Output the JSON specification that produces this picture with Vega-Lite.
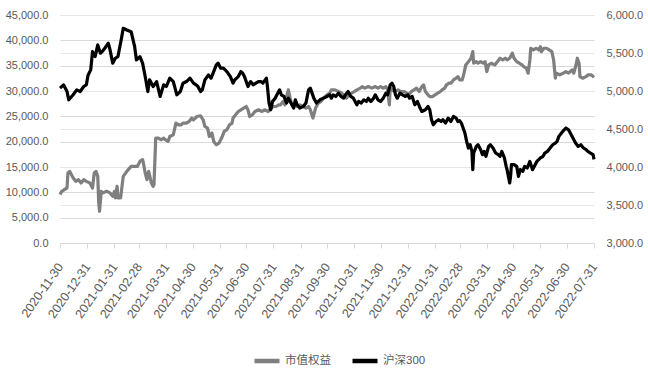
{
"$schema": "https://vega.github.io/schema/vega-lite/v6.json",
"width": 534, "height": 228,
"autosize": {"type": "none"},
"padding": {"left": 60, "top": 15, "right": 54, "bottom": 130},
"background": "white",
"config": {
  "font": "Liberation Sans, Noto Sans CJK SC",
  "view": {"stroke": null},
  "axis": {"labelColor": "#595959", "labelFontSize": 11, "title": null, "labelFont": "Liberation Sans, Noto Sans CJK SC"},
  "legend": {"orient": "none", "legendX": 192, "legendY": 331, "direction": "horizontal", "symbolType": "stroke", "symbolStrokeWidth": 4.5, "symbolSize": 625, "labelFontSize": 11.5, "labelColor": "#595959", "columnPadding": 12, "labelOffset": 3, "labelFont": "Liberation Sans, Noto Sans CJK SC"}
},
"datasets": {
"gray": [
{"d":"2020-11-30","v":9550},{"d":"2020-12-02","v":10200},{"d":"2020-12-05","v":10534},{"d":"2020-12-08","v":10862},{"d":"2020-12-09","v":13822},{"d":"2020-12-11","v":14138},{"d":"2020-12-15","v":12838},{"d":"2020-12-18","v":12168},{"d":"2020-12-21","v":12503},{"d":"2020-12-24","v":11853},{"d":"2020-12-27","v":12503},{"d":"2020-12-30","v":12168},
{"d":"2021-01-03","v":11853},{"d":"2021-01-06","v":10862},{"d":"2021-01-08","v":13822},{"d":"2021-01-10","v":14138},{"d":"2021-01-12","v":13153},{"d":"2021-01-13","v":8230},{"d":"2021-01-14","v":6262},{"d":"2021-01-16","v":10200},{"d":"2021-01-18","v":9885},{"d":"2021-01-22","v":10200},{"d":"2021-01-26","v":9885},{"d":"2021-01-29","v":9215},{"d":"2021-01-31","v":10200},
{"d":"2021-02-01","v":8900},{"d":"2021-02-03","v":11184},{"d":"2021-02-04","v":8900},{"d":"2021-02-07","v":8900},{"d":"2021-02-10","v":13153},{"d":"2021-02-14","v":14138},{"d":"2021-02-19","v":15122},{"d":"2021-02-23","v":15122},{"d":"2021-02-26","v":15122},
{"d":"2021-03-01","v":16107},{"d":"2021-03-04","v":16441},{"d":"2021-03-05","v":15791},{"d":"2021-03-07","v":13822},{"d":"2021-03-09","v":12503},{"d":"2021-03-11","v":14138},{"d":"2021-03-14","v":11853},{"d":"2021-03-16","v":11184},{"d":"2021-03-17","v":11500},{"d":"2021-03-19","v":20714},{"d":"2021-03-22","v":20714},{"d":"2021-03-25","v":20380},{"d":"2021-03-28","v":20714},{"d":"2021-03-30","v":20380},
{"d":"2021-04-02","v":20045},{"d":"2021-04-04","v":21030},{"d":"2021-04-08","v":21364},{"d":"2021-04-11","v":23667},{"d":"2021-04-14","v":23333},{"d":"2021-04-17","v":23333},{"d":"2021-04-19","v":23667},{"d":"2021-04-23","v":23667},{"d":"2021-04-26","v":23982},{"d":"2021-04-29","v":24652},
{"d":"2021-05-01","v":24317},{"d":"2021-05-05","v":24967},{"d":"2021-05-09","v":25105},{"d":"2021-05-12","v":24317},{"d":"2021-05-14","v":22998},{"d":"2021-05-17","v":22683},{"d":"2021-05-19","v":21030},{"d":"2021-05-22","v":21698},{"d":"2021-05-24","v":20045},{"d":"2021-05-27","v":19395},{"d":"2021-05-30","v":19730},
{"d":"2021-06-02","v":20714},{"d":"2021-06-05","v":22014},{"d":"2021-06-08","v":22349},{"d":"2021-06-11","v":23333},{"d":"2021-06-14","v":23667},{"d":"2021-06-15","v":24652},{"d":"2021-06-18","v":25302},{"d":"2021-06-21","v":25952},{"d":"2021-06-24","v":26287},{"d":"2021-06-27","v":26621},{"d":"2021-06-30","v":26937},
{"d":"2021-07-02","v":26287},{"d":"2021-07-04","v":24967},{"d":"2021-07-07","v":25302},{"d":"2021-07-10","v":25952},{"d":"2021-07-14","v":26287},{"d":"2021-07-18","v":25952},{"d":"2021-07-21","v":26287},{"d":"2021-07-25","v":25952},{"d":"2021-07-28","v":26621},{"d":"2021-07-31","v":26937},
{"d":"2021-08-03","v":26937},{"d":"2021-08-06","v":27271},{"d":"2021-08-08","v":27271},{"d":"2021-08-11","v":27921},{"d":"2021-08-13","v":27271},{"d":"2021-08-15","v":28905},{"d":"2021-08-17","v":30224},{"d":"2021-08-19","v":28590},{"d":"2021-08-21","v":27271},{"d":"2021-08-23","v":27271},{"d":"2021-08-27","v":26937},{"d":"2021-08-30","v":27271},
{"d":"2021-09-03","v":26937},{"d":"2021-09-06","v":26621},{"d":"2021-09-09","v":26937},{"d":"2021-09-11","v":26287},{"d":"2021-09-14","v":24652},{"d":"2021-09-15","v":25302},{"d":"2021-09-17","v":26621},{"d":"2021-09-20","v":27606},{"d":"2021-09-23","v":27921},{"d":"2021-09-26","v":28590},{"d":"2021-09-30","v":29240},
{"d":"2021-10-03","v":29575},{"d":"2021-10-05","v":30224},{"d":"2021-10-09","v":30224},{"d":"2021-10-13","v":29890},{"d":"2021-10-17","v":29575},{"d":"2021-10-20","v":28905},{"d":"2021-10-22","v":28590},{"d":"2021-10-25","v":29240},{"d":"2021-10-28","v":29575},{"d":"2021-10-31","v":29890},
{"d":"2021-11-03","v":30224},{"d":"2021-11-07","v":30559},{"d":"2021-11-09","v":30874},{"d":"2021-11-12","v":30559},{"d":"2021-11-16","v":30874},{"d":"2021-11-20","v":30559},{"d":"2021-11-24","v":30874},{"d":"2021-11-27","v":30559},{"d":"2021-11-30","v":30874},
{"d":"2021-12-03","v":30559},{"d":"2021-12-06","v":30874},{"d":"2021-12-08","v":30224},{"d":"2021-12-10","v":27271},{"d":"2021-12-11","v":30559},{"d":"2021-12-13","v":30224},{"d":"2021-12-16","v":29890},{"d":"2021-12-20","v":30224},{"d":"2021-12-23","v":29890},{"d":"2021-12-27","v":29890},{"d":"2021-12-30","v":29575},
{"d":"2022-01-01","v":29240},{"d":"2022-01-04","v":29890},{"d":"2022-01-07","v":30224},{"d":"2022-01-10","v":30559},{"d":"2022-01-13","v":29890},{"d":"2022-01-16","v":30874},{"d":"2022-01-18","v":31209},{"d":"2022-01-20","v":29890},{"d":"2022-01-23","v":29240},{"d":"2022-01-25","v":28905},{"d":"2022-01-28","v":28905},{"d":"2022-01-31","v":29240},
{"d":"2022-02-03","v":29575},{"d":"2022-02-06","v":29890},{"d":"2022-02-08","v":30224},{"d":"2022-02-11","v":30559},{"d":"2022-02-13","v":31209},{"d":"2022-02-16","v":31544},{"d":"2022-02-18","v":31544},{"d":"2022-02-21","v":32194},{"d":"2022-02-24","v":32528},{"d":"2022-02-26","v":32843},{"d":"2022-02-28","v":32200},
{"d":"2022-03-03","v":32200},{"d":"2022-03-05","v":33513},{"d":"2022-03-07","v":35147},{"d":"2022-03-10","v":35797},{"d":"2022-03-13","v":36466},{"d":"2022-03-15","v":37766},{"d":"2022-03-16","v":35482},{"d":"2022-03-19","v":35797},{"d":"2022-03-21","v":35482},{"d":"2022-03-24","v":35797},{"d":"2022-03-27","v":35482},{"d":"2022-03-29","v":35797},{"d":"2022-03-31","v":33828},
{"d":"2022-04-02","v":35147},{"d":"2022-04-05","v":35482},{"d":"2022-04-09","v":35147},{"d":"2022-04-12","v":35797},{"d":"2022-04-15","v":36466},{"d":"2022-04-18","v":36132},{"d":"2022-04-21","v":36466},{"d":"2022-04-23","v":36132},{"d":"2022-04-26","v":36466},{"d":"2022-04-29","v":37451},
{"d":"2022-05-01","v":36466},{"d":"2022-05-04","v":35797},{"d":"2022-05-07","v":35482},{"d":"2022-05-10","v":35147},{"d":"2022-05-12","v":34812},{"d":"2022-05-15","v":34497},{"d":"2022-05-17","v":33513},{"d":"2022-05-19","v":36132},{"d":"2022-05-20","v":38435},{"d":"2022-05-23","v":38100},{"d":"2022-05-26","v":38435},{"d":"2022-05-29","v":38100},{"d":"2022-05-31","v":38750},
{"d":"2022-06-01","v":37766},{"d":"2022-06-04","v":38435},{"d":"2022-06-07","v":38435},{"d":"2022-06-10","v":38100},{"d":"2022-06-13","v":37766},{"d":"2022-06-15","v":36132},{"d":"2022-06-17","v":32528},{"d":"2022-06-18","v":33513},{"d":"2022-06-22","v":33198},{"d":"2022-06-26","v":33513},{"d":"2022-06-29","v":33828},
{"d":"2022-07-02","v":33513},{"d":"2022-07-06","v":34163},{"d":"2022-07-08","v":33513},{"d":"2022-07-11","v":35482},{"d":"2022-07-12","v":36466},{"d":"2022-07-14","v":35482},{"d":"2022-07-15","v":32843},{"d":"2022-07-18","v":32528},{"d":"2022-07-22","v":32843},{"d":"2022-07-24","v":33198},{"d":"2022-07-28","v":33198},{"d":"2022-07-31","v":32700}
],
"black": [
{"d":"2020-11-30","v":5038},{"d":"2020-12-04","v":5081},{"d":"2020-12-08","v":4993},{"d":"2020-12-10","v":4884},{"d":"2020-12-15","v":4950},{"d":"2020-12-19","v":5015},{"d":"2020-12-23","v":4993},{"d":"2020-12-27","v":5059},{"d":"2020-12-30","v":5081},
{"d":"2021-01-01","v":5212},{"d":"2021-01-04","v":5278},{"d":"2021-01-06","v":5518},{"d":"2021-01-09","v":5453},{"d":"2021-01-12","v":5606},{"d":"2021-01-15","v":5497},{"d":"2021-01-17","v":5518},{"d":"2021-01-20","v":5563},{"d":"2021-01-24","v":5629},{"d":"2021-01-26","v":5541},{"d":"2021-01-29","v":5366},
{"d":"2021-02-01","v":5431},{"d":"2021-02-04","v":5453},{"d":"2021-02-08","v":5694},{"d":"2021-02-10","v":5825},{"d":"2021-02-14","v":5803},{"d":"2021-02-19","v":5781},{"d":"2021-02-23","v":5584},{"d":"2021-02-25","v":5409},
{"d":"2021-03-01","v":5453},{"d":"2021-03-04","v":5366},{"d":"2021-03-07","v":5190},{"d":"2021-03-10","v":4993},{"d":"2021-03-12","v":5147},{"d":"2021-03-16","v":5059},{"d":"2021-03-20","v":5124},{"d":"2021-03-24","v":4928},{"d":"2021-03-28","v":5081},{"d":"2021-03-31","v":5059},
{"d":"2021-04-04","v":5169},{"d":"2021-04-08","v":5124},{"d":"2021-04-12","v":4950},{"d":"2021-04-16","v":4993},{"d":"2021-04-19","v":5103},{"d":"2021-04-23","v":5124},{"d":"2021-04-27","v":5169},
{"d":"2021-05-01","v":5103},{"d":"2021-05-04","v":5081},{"d":"2021-05-06","v":5059},{"d":"2021-05-09","v":4993},{"d":"2021-05-11","v":5015},{"d":"2021-05-14","v":5147},{"d":"2021-05-18","v":5212},{"d":"2021-05-21","v":5169},{"d":"2021-05-24","v":5256},{"d":"2021-05-27","v":5344},{"d":"2021-05-29","v":5366},
{"d":"2021-06-01","v":5300},{"d":"2021-06-04","v":5300},{"d":"2021-06-08","v":5256},{"d":"2021-06-12","v":5190},{"d":"2021-06-15","v":5103},{"d":"2021-06-17","v":5147},{"d":"2021-06-21","v":5190},{"d":"2021-06-24","v":5256},{"d":"2021-06-26","v":5234},{"d":"2021-06-28","v":5190},{"d":"2021-06-30","v":5124},
{"d":"2021-07-02","v":5059},{"d":"2021-07-05","v":5124},{"d":"2021-07-08","v":5081},{"d":"2021-07-11","v":5103},{"d":"2021-07-14","v":5124},{"d":"2021-07-17","v":5124},{"d":"2021-07-19","v":5103},{"d":"2021-07-23","v":5169},{"d":"2021-07-24","v":5081},{"d":"2021-07-26","v":4841},{"d":"2021-07-28","v":4753},{"d":"2021-07-30","v":4862},
{"d":"2021-08-02","v":4906},{"d":"2021-08-04","v":4950},{"d":"2021-08-07","v":5015},{"d":"2021-08-09","v":4950},{"d":"2021-08-12","v":4928},{"d":"2021-08-15","v":4841},{"d":"2021-08-17","v":4906},{"d":"2021-08-20","v":4841},{"d":"2021-08-23","v":4775},{"d":"2021-08-25","v":4884},{"d":"2021-08-27","v":4819},{"d":"2021-08-30","v":4775},
{"d":"2021-09-03","v":4797},{"d":"2021-09-06","v":4841},{"d":"2021-09-09","v":5015},{"d":"2021-09-11","v":5038},{"d":"2021-09-13","v":4972},{"d":"2021-09-15","v":4906},{"d":"2021-09-18","v":4841},{"d":"2021-09-22","v":4884},{"d":"2021-09-26","v":4906},{"d":"2021-09-30","v":4928},
{"d":"2021-10-03","v":4950},{"d":"2021-10-05","v":4906},{"d":"2021-10-07","v":4950},{"d":"2021-10-10","v":4928},{"d":"2021-10-13","v":4972},{"d":"2021-10-16","v":4928},{"d":"2021-10-19","v":4906},{"d":"2021-10-21","v":4950},{"d":"2021-10-24","v":4993},{"d":"2021-10-27","v":4928},{"d":"2021-10-30","v":4906},
{"d":"2021-11-03","v":4819},{"d":"2021-11-05","v":4862},{"d":"2021-11-08","v":4841},{"d":"2021-11-11","v":4884},{"d":"2021-11-14","v":4862},{"d":"2021-11-16","v":4906},{"d":"2021-11-19","v":4862},{"d":"2021-11-22","v":4906},{"d":"2021-11-24","v":4950},{"d":"2021-11-27","v":4884},{"d":"2021-11-30","v":4862},
{"d":"2021-12-03","v":4906},{"d":"2021-12-06","v":4972},{"d":"2021-12-08","v":4950},{"d":"2021-12-11","v":5081},{"d":"2021-12-13","v":5103},{"d":"2021-12-15","v":5059},{"d":"2021-12-17","v":4950},{"d":"2021-12-19","v":4906},{"d":"2021-12-22","v":4972},{"d":"2021-12-25","v":4950},{"d":"2021-12-28","v":4928},{"d":"2021-12-31","v":4950},
{"d":"2022-01-02","v":4906},{"d":"2022-01-05","v":4928},{"d":"2022-01-08","v":4819},{"d":"2022-01-11","v":4862},{"d":"2022-01-14","v":4775},{"d":"2022-01-16","v":4731},{"d":"2022-01-20","v":4753},{"d":"2022-01-23","v":4797},{"d":"2022-01-25","v":4753},{"d":"2022-01-27","v":4622},{"d":"2022-01-29","v":4556},
{"d":"2022-02-01","v":4599},{"d":"2022-02-04","v":4622},{"d":"2022-02-07","v":4599},{"d":"2022-02-09","v":4622},{"d":"2022-02-12","v":4578},{"d":"2022-02-15","v":4644},{"d":"2022-02-18","v":4599},{"d":"2022-02-21","v":4665},{"d":"2022-02-24","v":4644},{"d":"2022-02-26","v":4599},{"d":"2022-02-28","v":4610},
{"d":"2022-03-02","v":4578},{"d":"2022-03-04","v":4513},{"d":"2022-03-06","v":4447},{"d":"2022-03-08","v":4337},{"d":"2022-03-10","v":4250},{"d":"2022-03-12","v":4293},{"d":"2022-03-14","v":4205},{"d":"2022-03-15","v":3965},{"d":"2022-03-16","v":4184},{"d":"2022-03-19","v":4271},{"d":"2022-03-21","v":4293},{"d":"2022-03-24","v":4228},{"d":"2022-03-26","v":4162},{"d":"2022-03-28","v":4205},{"d":"2022-03-30","v":4140},
{"d":"2022-04-02","v":4271},{"d":"2022-04-04","v":4293},{"d":"2022-04-07","v":4250},{"d":"2022-04-10","v":4184},{"d":"2022-04-13","v":4162},{"d":"2022-04-15","v":4140},{"d":"2022-04-17","v":4205},{"d":"2022-04-20","v":4119},{"d":"2022-04-22","v":4008},{"d":"2022-04-23","v":3965},{"d":"2022-04-26","v":3790},{"d":"2022-04-27","v":3877},{"d":"2022-04-28","v":4031},
{"d":"2022-05-01","v":4031},{"d":"2022-05-04","v":4008},{"d":"2022-05-06","v":3877},{"d":"2022-05-08","v":3965},{"d":"2022-05-11","v":3943},{"d":"2022-05-13","v":4008},{"d":"2022-05-16","v":3987},{"d":"2022-05-19","v":4074},{"d":"2022-05-22","v":3965},{"d":"2022-05-25","v":4031},{"d":"2022-05-27","v":4074},{"d":"2022-05-31","v":4119},
{"d":"2022-06-03","v":4140},{"d":"2022-06-05","v":4184},{"d":"2022-06-08","v":4205},{"d":"2022-06-11","v":4250},{"d":"2022-06-14","v":4293},{"d":"2022-06-17","v":4315},{"d":"2022-06-19","v":4337},{"d":"2022-06-21","v":4403},{"d":"2022-06-24","v":4447},{"d":"2022-06-27","v":4490},{"d":"2022-06-29","v":4513},
{"d":"2022-07-02","v":4490},{"d":"2022-07-04","v":4447},{"d":"2022-07-07","v":4381},{"d":"2022-07-10","v":4315},{"d":"2022-07-13","v":4271},{"d":"2022-07-16","v":4293},{"d":"2022-07-19","v":4250},{"d":"2022-07-22","v":4228},{"d":"2022-07-24","v":4205},{"d":"2022-07-27","v":4184},{"d":"2022-07-30","v":4162},{"d":"2022-07-31","v":4100}
]
},
"encoding": {
  "x": {"field": "d", "type": "temporal",
    "scale": {"type": "utc", "domain": [{"year": 2020, "month": 11, "date": 30, "utc": true}, {"year": 2022, "month": 7, "date": 31, "utc": true}]},
    "axis": {"format": "%Y-%m-%d", "labelAngle": -55, "labelAlign": "right", "labelBaseline": "middle", "labelFontSize": 12.5, "tickSize": 5, "tickColor": "#d9d9d9", "domainColor": "#d9d9d9", "grid": false, "labelPadding": 16, "labelOverlap": false, "labelBound": false,
      "values": [
        {"year":2020,"month":11,"date":30,"utc":true},{"year":2020,"month":12,"date":31,"utc":true},
        {"year":2021,"month":1,"date":31,"utc":true},{"year":2021,"month":2,"date":28,"utc":true},{"year":2021,"month":3,"date":31,"utc":true},{"year":2021,"month":4,"date":30,"utc":true},{"year":2021,"month":5,"date":31,"utc":true},{"year":2021,"month":6,"date":30,"utc":true},{"year":2021,"month":7,"date":31,"utc":true},{"year":2021,"month":8,"date":31,"utc":true},{"year":2021,"month":9,"date":30,"utc":true},{"year":2021,"month":10,"date":31,"utc":true},{"year":2021,"month":11,"date":30,"utc":true},{"year":2021,"month":12,"date":31,"utc":true},
        {"year":2022,"month":1,"date":31,"utc":true},{"year":2022,"month":2,"date":28,"utc":true},{"year":2022,"month":3,"date":31,"utc":true},{"year":2022,"month":4,"date":30,"utc":true},{"year":2022,"month":5,"date":31,"utc":true},{"year":2022,"month":6,"date":30,"utc":true},{"year":2022,"month":7,"date":31,"utc":true}
      ]}}
},
"layer": [
  {"data": {"name": "gray"},
   "mark": {"type": "line", "strokeWidth": 3.2, "strokeJoin": "round"},
   "encoding": {
     "y": {"field": "v", "type": "quantitative", "scale": {"domain": [0, 45000]},
       "axis": {"orient": "left", "values": [0,5000,10000,15000,20000,25000,30000,35000,40000,45000], "format": ",.1f", "grid": true, "gridColor": "#d9d9d9", "domain": false, "ticks": false, "labelPadding": 12}},
     "color": {"datum": "市值权益", "type": "nominal", "title": null,
       "scale": {"domain": ["市值权益", "沪深300"], "range": ["#7f7f7f", "#000000"]}}
   }},
  {"data": {"name": "black"},
   "mark": {"type": "line", "strokeWidth": 3.2, "strokeJoin": "round"},
   "encoding": {
     "y": {"field": "v", "type": "quantitative", "scale": {"domain": [3000, 6000]},
       "axis": {"orient": "right", "values": [3000,3500,4000,4500,5000,5500,6000], "format": ",.1f", "grid": true, "gridColor": "#e6e6e6", "domain": false, "ticks": false, "labelPadding": 12}},
     "color": {"datum": "沪深300", "type": "nominal", "title": null}
   }}
],
"resolve": {"scale": {"y": "independent"}, "axis": {"y": "independent"}}
}
